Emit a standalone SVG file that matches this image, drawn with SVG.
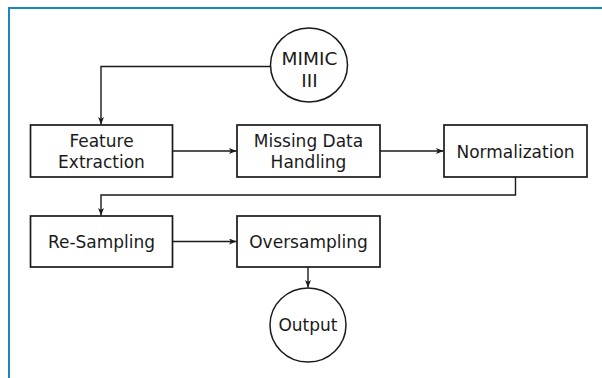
<svg xmlns="http://www.w3.org/2000/svg" width="602" height="378" viewBox="0 0 602 378">
<defs>
<marker id="ah" viewBox="0 0 10 8" refX="10" refY="4" markerWidth="8" markerHeight="6" markerUnits="userSpaceOnUse" orient="auto">
<path d="M0,0 L10,4 L0,8 L2.5,4 Z" fill="#1a1a1a"/>
</marker>
<style>
.box{fill:#fff;stroke:#1a1a1a;stroke-width:1.7}
.t{font-family:"DejaVu Sans",Verdana,sans-serif;font-size:17px;fill:#1a1a1a;text-anchor:middle}
.big{font-size:18.5px}
.c{fill:none;stroke:#1a1a1a;stroke-width:1.4;marker-end:url(#ah)}
</style>
</defs>
<rect width="602" height="378" fill="#fff"/>
<path d="M9,378 V8 H602" fill="none" stroke="#1b87c0" stroke-width="2"/>
<g id="connectors">
<path class="c" d="M270,66.5 H101 V124.5"/>
<path class="c" d="M172,151 H236.5"/>
<path class="c" d="M380,151 H443.5"/>
<path class="c" d="M515.5,177 V195 H101 V215.5"/>
<path class="c" d="M172,241.5 H236.5"/>
<path class="c" d="M308,267 V287.5"/>
</g>
<g id="mimic">
<ellipse cx="309" cy="65" rx="38.5" ry="37" fill="#fff" stroke="#1a1a1a" stroke-width="1.5"/>
<text class="t big" x="309.5" y="65">MIMIC</text>
<text class="t big" x="309.5" y="86.5">III</text>
</g>
<g id="feature">
<rect class="box" x="30.5" y="125" width="142" height="52"/>
<text class="t" x="101.5" y="146.5">Feature</text>
<text class="t" x="101.5" y="167.5">Extraction</text>
</g>
<g id="missing">
<rect class="box" x="237" y="125" width="143" height="52"/>
<text class="t" x="308.5" y="146.5">Missing Data</text>
<text class="t" x="308.5" y="167.5">Handling</text>
</g>
<g id="normalization">
<rect class="box" x="444" y="125" width="143" height="52"/>
<text class="t" x="515.5" y="157.5">Normalization</text>
</g>
<g id="resampling">
<rect class="box" x="30.5" y="216" width="142" height="51"/>
<text class="t" x="101.5" y="247.5">Re-Sampling</text>
</g>
<g id="oversampling">
<rect class="box" x="237" y="216" width="143" height="51"/>
<text class="t" x="308.5" y="247.5">Oversampling</text>
</g>
<g id="output">
<ellipse cx="308" cy="325" rx="38" ry="37" fill="#fff" stroke="#1a1a1a" stroke-width="1.5"/>
<text class="t" x="308" y="331">Output</text>
</g>
</svg>
